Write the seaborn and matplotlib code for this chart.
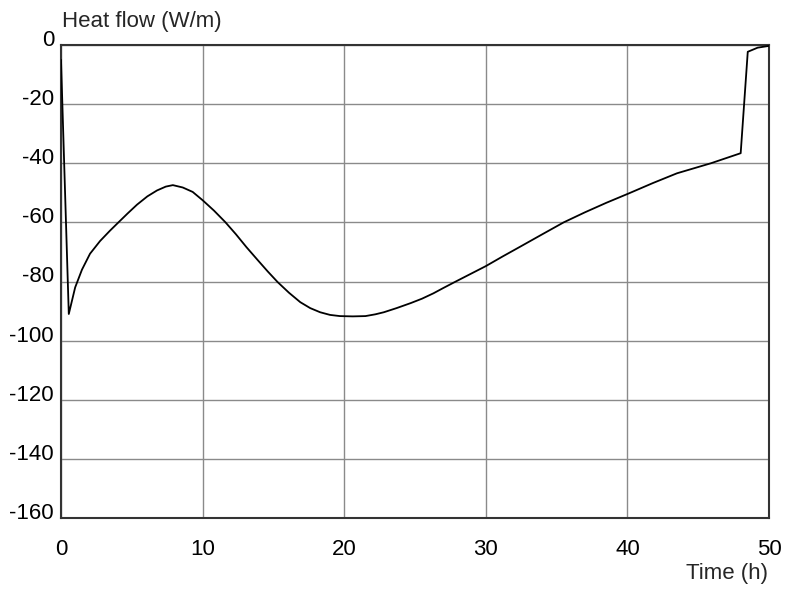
import numpy as np
import pandas as pd
import matplotlib
matplotlib.use("Agg")
import matplotlib.pyplot as plt
import matplotlib.transforms as mtransforms
import seaborn as sns

# === Data ===
time_h = [0.0, 0.55, 1.0, 1.48, 2.05, 2.76, 3.46, 3.95, 4.7, 5.37, 6.1, 6.78,
          7.4, 7.9, 8.6, 9.3, 10.0, 10.8, 11.6, 12.35, 13.1, 13.9, 14.6, 15.3,
          16.1, 16.9, 17.6, 18.3, 19.0, 19.7, 20.6, 21.5, 22.2, 22.8, 23.7,
          24.7, 25.5, 26.3, 27.0, 27.8, 28.9, 30.0, 31.2, 32.4, 34.0, 35.5,
          37.0, 38.5, 40.1, 41.8, 43.5, 45.9, 48.0, 48.5, 49.2, 50.0]
heat_flow = [-5.0, -91.0, -82.0, -76.0, -70.6, -66.3, -62.8, -60.5, -57.0, -54.0, -51.2, -49.2,
             -47.9, -47.4, -48.2, -49.7, -52.5, -56.0, -59.9, -64.0, -68.4, -72.8, -76.6, -80.2,
             -83.8, -87.0, -89.0, -90.4, -91.3, -91.7, -91.8, -91.7, -91.1, -90.4, -89.0,
             -87.3, -85.8, -84.0, -82.2, -80.2, -77.5, -74.8, -71.5, -68.3, -64.0, -60.0,
             -56.6, -53.4, -50.2, -46.7, -43.4, -40.0, -36.6, -2.3, -0.9, -0.3]
x_ticks = [0, 10, 20, 30, 40, 50]
y_ticks = [0, -20, -40, -60, -80, -100, -120, -140, -160]

df = pd.DataFrame({"Time (h)": time_h, "Heat flow": heat_flow})

sns.set_style("white")
plt.rcParams["font.family"] = ["Liberation Sans", "DejaVu Sans"]
plt.rcParams["axes.unicode_minus"] = False

fig = plt.figure(figsize=(7.85, 5.92), dpi=100)
ax = fig.add_axes([61 / 785, 1 - 518 / 592, 708 / 785, 473 / 592])

sns.lineplot(data=df, x="Time (h)", y="Heat flow", ax=ax, sort=False,
             color="black", linewidth=1.3, zorder=3)

ax.set_xlim(0, 50)
ax.set_ylim(-160, 0)
ax.set_xticks(x_ticks)
ax.set_yticks(y_ticks)
ax.grid(True, color="#8a8a8a", linewidth=1.0)
ax.set_axisbelow(True)
for s in ax.spines.values():
    s.set_color("#333333")
    s.set_linewidth(1.5)
ax.tick_params(axis="both", length=0, labelsize=16, colors="black")
ax.tick_params(axis="x", pad=15)
ax.tick_params(axis="y", pad=5)
ax.set_xlabel("")
ax.set_ylabel("")

# y tick labels sit a little above their grid lines
shift = mtransforms.ScaledTranslation(0, 7 / 100, fig.dpi_scale_trans)
for lbl in ax.get_yticklabels():
    lbl.set_transform(lbl.get_transform() + shift)

fig.text(62 / 785, 1 - 27 / 592, "Heat flow (W/m)", fontsize=16,
         ha="left", va="baseline")
fig.text(768 / 785, 1 - 573 / 592, "Time (h)", fontsize=16,
         ha="right", va="center")

fig.savefig("out.png", dpi=100)
